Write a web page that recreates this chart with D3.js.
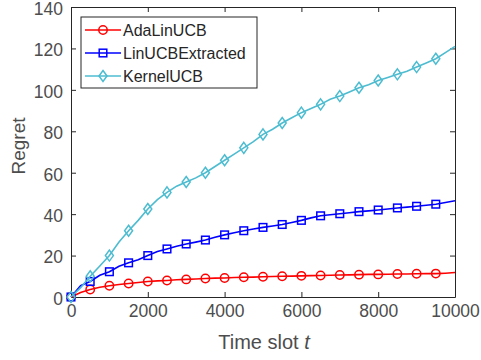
<!DOCTYPE html>
<html>
<head>
<meta charset="utf-8">
<script src="https://cdn.jsdelivr.net/npm/d3@7"></script>
<style>
  body { margin: 0; background: #fff; }
  svg { font-family: "Liberation Sans", Arial, sans-serif; }
</style>
</head>
<body>
<div id="chart"></div>
<script>
const W = 481, H = 360;
const margin = { top: 7, right: 26, bottom: 63, left: 71 };

// time slots (dense) and marker slots
const tDense = d3.range(0, 10001, 250);
const tMarks = d3.range(0, 10000, 500);

const adaLinUCB = [0, 2.2, 3.6, 4.7, 5.4, 6.0, 6.5, 7.0, 7.5, 7.8, 8.0, 8.3, 8.5, 8.7, 8.9, 9.1, 9.2, 9.4, 9.5, 9.6, 9.8, 9.9, 10.0, 10.1, 10.2, 10.3, 10.4, 10.5, 10.6, 10.7, 10.8, 10.9, 10.9, 11.0, 11.1, 11.1, 11.2, 11.3, 11.3, 11.5, 11.8];
const linUCBExtracted = [0, 5.5, 7.5, 10.5, 12.2, 14.8, 16.5, 18.0, 20.0, 22.0, 23.2, 24.5, 25.6, 26.5, 27.5, 28.8, 30.0, 31.0, 32.0, 32.8, 33.6, 34.3, 35.0, 36.0, 37.0, 38.2, 39.2, 39.7, 40.2, 40.7, 41.2, 41.6, 42.0, 42.5, 43.0, 43.4, 43.8, 44.3, 44.8, 45.6, 46.5];
const kernelUCB = [0, 4.5, 10.0, 15.0, 20.0, 26.5, 32.0, 37.0, 42.5, 47.0, 50.5, 53.5, 55.5, 57.5, 60.0, 63.0, 66.0, 69.0, 72.0, 75.0, 78.5, 81.0, 84.0, 86.5, 89.0, 91.0, 93.0, 95.5, 97.0, 99.0, 101.0, 102.5, 104.5, 106.0, 107.5, 109.0, 111.0, 113.0, 115.0, 118.0, 121.0];

const series = [
  { name: "AdaLinUCB", values: adaLinUCB, color: "#ff0000", marker: "circle" },
  { name: "LinUCBExtracted", values: linUCBExtracted, color: "#0000ff", marker: "square" },
  { name: "KernelUCB", values: kernelUCB, color: "#4dbcd0", marker: "diamond" }
];

const xTicks = [0, 2000, 4000, 6000, 8000, 10000];
const yTicks = [0, 20, 40, 60, 80, 100, 120, 140];

const svg = d3.select("#chart").append("svg")
  .attr("width", W).attr("height", H);

const pw = W - margin.left - margin.right;
const ph = H - margin.top - margin.bottom;

const x = d3.scaleLinear().domain([0, 10000]).range([margin.left, margin.left + pw]);
const y = d3.scaleLinear().domain([0, 140]).range([margin.top + ph, margin.top]);

const axisColor = "#262626";
const labelColor = "#4d4d4d";

// axes (MATLAB-style box, ticks inward)
const gx = svg.append("g").attr("transform", `translate(0,${y(0)})`)
  .call(d3.axisBottom(x).tickValues(xTicks).tickFormat(d3.format("d")).tickSizeInner(-5).tickSizeOuter(0).tickPadding(8));
const gxTop = svg.append("g").attr("transform", `translate(0,${y(140)})`)
  .call(d3.axisTop(x).tickValues(xTicks).tickSizeInner(-5).tickSizeOuter(0).tickFormat(""));
const gy = svg.append("g").attr("transform", `translate(${x(0)},0)`)
  .call(d3.axisLeft(y).tickValues(yTicks).tickSizeInner(-5).tickSizeOuter(0).tickPadding(8));
const gyRight = svg.append("g").attr("transform", `translate(${x(10000)},0)`)
  .call(d3.axisRight(y).tickValues(yTicks).tickSizeInner(-5).tickSizeOuter(0).tickFormat(""));

[gx, gxTop, gy, gyRight].forEach(g => {
  g.select(".domain").attr("stroke", axisColor).attr("stroke-width", 1);
  g.selectAll(".tick line").attr("stroke", axisColor);
  g.selectAll(".tick text").attr("fill", labelColor).style("font-size", "17.5px");
});
gy.selectAll(".tick text").attr("dy", "0.42em");

// series
const line = d3.line().x((d, i) => x(tDense[i])).y(d => y(d));

function drawMarker(g, type, cx, cy, color) {
  if (type === "circle") {
    g.append("circle").attr("cx", cx).attr("cy", cy).attr("r", 4.2)
      .attr("fill", "none").attr("stroke", color).attr("stroke-width", 1.5);
  } else if (type === "square") {
    g.append("rect").attr("x", cx - 3.8).attr("y", cy - 3.8).attr("width", 7.6).attr("height", 7.6)
      .attr("fill", "none").attr("stroke", color).attr("stroke-width", 1.5);
  } else {
    g.append("path").attr("d", `M${cx},${cy - 5.5}L${cx + 4},${cy}L${cx},${cy + 5.5}L${cx - 4},${cy}Z`)
      .attr("fill", "none").attr("stroke", color).attr("stroke-width", 1.5);
  }
}

series.forEach(s => {
  const g = svg.append("g");
  g.append("path").datum(s.values).attr("d", line)
    .attr("fill", "none").attr("stroke", s.color).attr("stroke-width", 1.6);
  tMarks.forEach(t => {
    const i = tDense.indexOf(t);
    drawMarker(g, s.marker, x(t), y(s.values[i]), s.color);
  });
});

// axis labels
svg.append("text")
  .attr("transform", `translate(25,${146}) rotate(-90)`)
  .attr("text-anchor", "middle").attr("fill", labelColor).style("font-size", "19px")
  .text("Regret");

const xl = svg.append("text")
  .attr("x", 264).attr("y", 349)
  .attr("text-anchor", "middle").attr("fill", labelColor).style("font-size", "20px");
xl.append("tspan").text("Time slot ");
xl.append("tspan").attr("font-style", "italic").text("t");

// legend
const lg = svg.append("g").attr("transform", "translate(81,17)");
lg.append("rect").attr("width", 176).attr("height", 71)
  .attr("fill", "#fff").attr("stroke", axisColor).attr("stroke-width", 1);
series.forEach((s, i) => {
  const ly = 13 + i * 23;
  lg.append("line").attr("x1", 4).attr("x2", 40).attr("y1", ly).attr("y2", ly)
    .attr("stroke", s.color).attr("stroke-width", 1.6);
  drawMarker(lg, s.marker, 22, ly, s.color);
  lg.append("text").attr("x", 42).attr("y", ly).attr("dy", "0.36em")
    .attr("fill", "#262626").style("font-size", "16px").text(s.name);
});
</script>
</body>
</html>
